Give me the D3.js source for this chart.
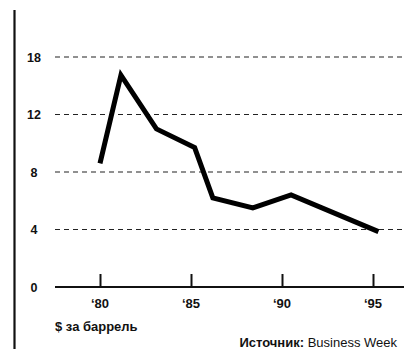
<!DOCTYPE html>
<html><head><meta charset="utf-8">
<script src="https://cdn.jsdelivr.net/npm/d3@7/dist/d3.min.js"></script>
<style>body{margin:0;background:#fff}svg{display:block}text{font-family:"Liberation Sans",Arial,sans-serif}</style>
</head><body>
<script>
const years  = [1980, 1981.15, 1983.1, 1985.2, 1986.2, 1988.4, 1990.5, 1995.3];
const prices = [8.6, 16.1, 11.0, 9.7, 6.2, 5.5, 6.4, 3.85];
const yTicks = [0, 4, 8, 12, 18];
const xTicks = [1980, 1985, 1990, 1995];
const xTickLabels = ["‘80", "‘85", "‘90", "‘95"];

const W = 404, H = 349;
const svg = d3.select("body").append("svg").attr("width", W).attr("height", H);

const x = d3.scaleLinear().domain([1980, 1995]).range([100, 373]);
// ticks evenly spaced in the original (piecewise scale)
const y = d3.scaleLinear().domain(yTicks).range([287, 229.5, 172, 114.5, 57]);

// left frame line
svg.append("line").attr("x1", 14.5).attr("x2", 14.5).attr("y1", 10).attr("y2", H)
  .attr("stroke", "#111").attr("stroke-width", 2.2);

// gridlines
svg.append("g").selectAll("line").data(yTicks.filter(d => d > 0)).join("line")
  .attr("x1", 55).attr("x2", W).attr("y1", d => y(d)).attr("y2", d => y(d))
  .attr("stroke", "#222").attr("stroke-width", 1.2).attr("stroke-dasharray", "5,4");

// y labels
svg.append("g").selectAll("text").data(yTicks).join("text")
  .attr("x", 34).attr("y", d => y(d)).attr("dy", "0.36em")
  .attr("text-anchor", "middle").attr("font-size", 12.5).attr("font-weight", "bold")
  .attr("fill", "#111").text(d => d);

// x axis
const xAxis = d3.axisTop(x).tickValues(xTicks).tickSize(13).tickFormat("");
const gx = svg.append("g").attr("transform", `translate(0,${y(0)})`).call(xAxis);
gx.select(".domain").remove();
gx.selectAll(".tick line").attr("stroke", "#111").attr("stroke-width", 2);
svg.append("line").attr("x1", 55).attr("x2", W).attr("y1", y(0)).attr("y2", y(0))
  .attr("stroke", "#111").attr("stroke-width", 2);

svg.append("g").selectAll("text").data(xTicks).join("text")
  .attr("x", d => x(d)).attr("y", 308).attr("text-anchor", "middle")
  .attr("font-size", 13).attr("font-weight", "bold").attr("fill", "#111")
  .text((d, i) => xTickLabels[i]);

// line
const pts = years.map((d, i) => [d, prices[i]]);
svg.append("path").datum(pts)
  .attr("d", d3.line().x(d => x(d[0])).y(d => y(d[1])))
  .attr("fill", "none").attr("stroke", "#000").attr("stroke-width", 5)
  .attr("stroke-linejoin", "miter");

// texts
svg.append("text").attr("x", 55).attr("y", 331).attr("font-size", 13)
  .attr("font-weight", "bold").attr("fill", "#111").text("$ за баррель");
const src = svg.append("text").attr("x", 397).attr("y", 347).attr("text-anchor", "end")
  .attr("font-size", 13).attr("fill", "#111");
src.append("tspan").attr("font-weight", "bold").text("Источник: ");
src.append("tspan").text("Business Week");
</script>
</body></html>
